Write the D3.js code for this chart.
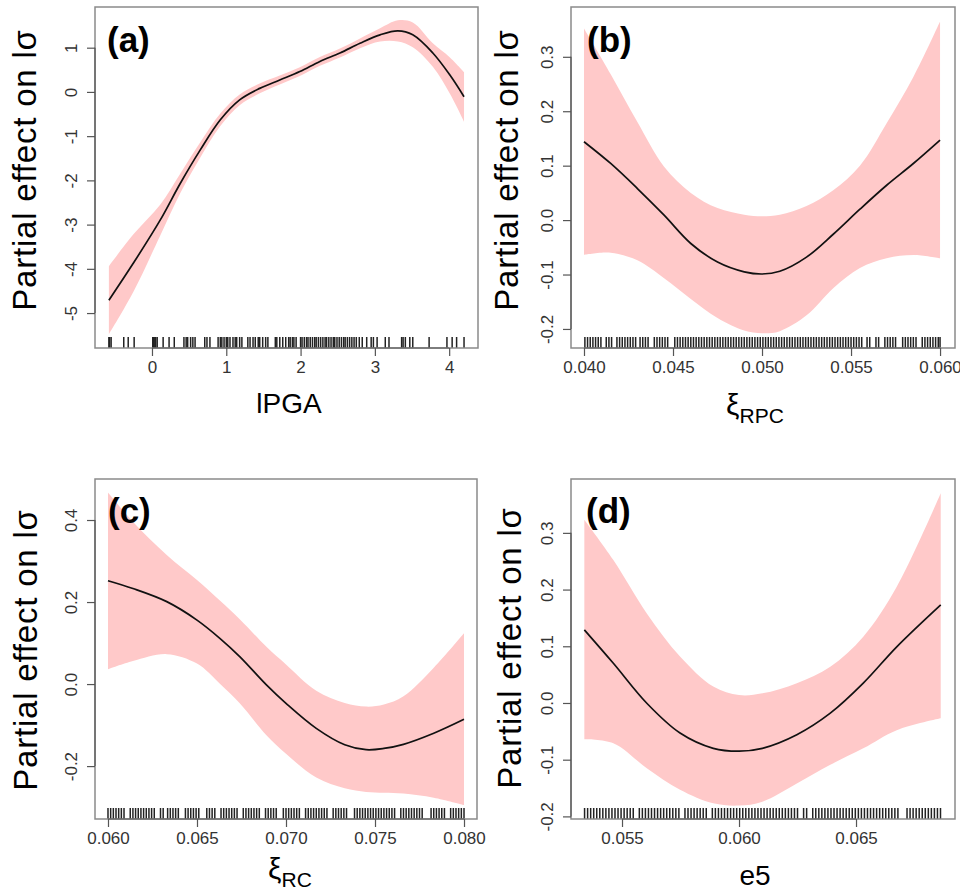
<!DOCTYPE html>
<html><head><meta charset="utf-8">
<script src="https://cdn.jsdelivr.net/npm/d3@7"></script>
<style>body{margin:0;background:#fff}svg{display:block}text{font-family:"Liberation Sans",Arial,sans-serif}</style>
</head><body><svg id="c" width="960" height="894"></svg>
<script>
// ---------- Panel (a): lPGA ----------
const aX     = [-0.58,-0.25,0.11,0.38,0.65,0.92,1.18,1.45,1.72,1.99,2.26,2.53,2.80,3.07,3.31,3.51,3.78,4.01,4.20];
const aFit   = [-4.71,-3.87,-2.90,-2.07,-1.31,-0.63,-0.18,0.08,0.27,0.46,0.69,0.88,1.10,1.29,1.38,1.29,0.88,0.38,-0.11];
const aUpper = [-3.94,-3.22,-2.55,-1.85,-1.14,-0.49,-0.06,0.19,0.37,0.56,0.79,0.98,1.21,1.44,1.62,1.57,1.10,0.78,0.45];
const aLower = [-5.48,-4.52,-3.25,-2.29,-1.48,-0.77,-0.30,-0.03,0.17,0.36,0.59,0.78,0.99,1.14,1.14,1.01,0.57,-0.04,-0.67];
const aRug   = [-0.58,-0.57,-0.55,-0.38,-0.32,-0.24,0.01,0.02,0.03,0.05,0.07,0.15,0.23,0.30,0.43,0.46,0.48,0.52,0.55,0.58,0.71,0.74,0.78,0.89,0.92,0.94,0.97,1.00,1.02,1.05,1.09,1.12,1.14,1.18,1.21,1.29,1.32,1.36,1.39,1.43,1.45,1.49,1.53,1.56,1.66,1.68,1.72,1.76,1.80,1.84,1.86,1.89,1.91,1.94,2.00,2.02,2.05,2.08,2.10,2.13,2.16,2.19,2.21,2.24,2.27,2.30,2.33,2.35,2.38,2.41,2.44,2.46,2.49,2.52,2.55,2.58,2.60,2.63,2.66,2.69,2.72,2.75,2.79,2.83,2.89,2.95,2.98,3.03,3.14,3.19,3.36,3.38,3.41,3.47,3.51,3.73,3.97,4.04,4.10,4.20];
const aXTicks = [0,1,2,3,4];
const aYTicks = [-5,-4,-3,-2,-1,0,1];

// ---------- Panel (b): xi_RPC ----------
const bX     = [0.0400,0.0415,0.0430,0.0445,0.0460,0.0475,0.0490,0.0500,0.0510,0.0525,0.0540,0.0555,0.0570,0.0585,0.0600];
const bFit   = [0.144,0.104,0.058,0.009,-0.043,-0.077,-0.095,-0.099,-0.094,-0.068,-0.026,0.020,0.064,0.104,0.147];
const bUpper = [0.352,0.268,0.180,0.098,0.050,0.022,0.010,0.007,0.010,0.026,0.055,0.100,0.178,0.263,0.365];
const bLower = [-0.064,-0.060,-0.074,-0.107,-0.145,-0.180,-0.203,-0.208,-0.204,-0.175,-0.125,-0.088,-0.070,-0.064,-0.070];
const bRug   = [0.04005,0.0402,0.04035,0.0405,0.04065,0.0408,0.04095,0.04125,0.0414,0.04155,0.04185,0.042,0.04215,0.0423,0.04245,0.0426,0.04275,0.0429,0.04315,0.0433,0.04345,0.0436,0.04395,0.0441,0.04425,0.0444,0.04455,0.0447,0.0451,0.04525,0.0454,0.04555,0.0457,0.04585,0.046,0.04615,0.0463,0.04645,0.0466,0.04675,0.0469,0.04705,0.0472,0.04735,0.0475,0.04765,0.0478,0.04795,0.0481,0.04825,0.0484,0.04855,0.0487,0.04885,0.049,0.04915,0.0493,0.04945,0.0496,0.04975,0.0499,0.05005,0.0502,0.05035,0.0505,0.05065,0.0508,0.05095,0.0511,0.05125,0.0514,0.05155,0.0517,0.05185,0.052,0.05215,0.0523,0.05245,0.0526,0.05275,0.0529,0.05305,0.0532,0.05335,0.0535,0.05365,0.0538,0.05395,0.0541,0.05425,0.0544,0.05455,0.0547,0.05485,0.055,0.05515,0.0553,0.05545,0.0556,0.0559,0.05605,0.0564,0.05655,0.0569,0.05705,0.0572,0.05735,0.0575,0.0579,0.05805,0.0582,0.05835,0.0585,0.05865,0.059,0.05915,0.0593,0.05945,0.0596,0.05975,0.0599,0.0600];
const bXTicks = [0.040,0.045,0.050,0.055,0.060];
const bYTicks = [-0.2,-0.1,0.0,0.1,0.2,0.3];

// ---------- Panel (c): xi_RC ----------
const cX     = [0.0600,0.0614,0.0633,0.0650,0.0663,0.0674,0.0689,0.0700,0.0717,0.0733,0.0745,0.0755,0.0766,0.0783,0.0800];
const cFit   = [0.252,0.233,0.201,0.156,0.111,0.067,-0.002,-0.047,-0.108,-0.148,-0.160,-0.157,-0.147,-0.120,-0.086];
const cUpper = [0.467,0.396,0.315,0.254,0.203,0.158,0.091,0.048,-0.016,-0.046,-0.055,-0.050,-0.030,0.040,0.124];
const cLower = [0.036,0.056,0.073,0.050,0.000,-0.047,-0.125,-0.170,-0.228,-0.254,-0.263,-0.265,-0.267,-0.277,-0.295];
const cRug   = [0.0600,0.06015,0.0603,0.06045,0.0606,0.06075,0.0609,0.06125,0.0614,0.06155,0.0617,0.06185,0.0620,0.06215,0.0623,0.06245,0.0626,0.06295,0.0631,0.06335,0.0635,0.06365,0.0638,0.06395,0.06435,0.0645,0.06465,0.0648,0.06495,0.0651,0.06555,0.0657,0.06585,0.0660,0.06635,0.0665,0.06665,0.0668,0.06695,0.0671,0.06725,0.0676,0.06775,0.0679,0.06805,0.0682,0.06835,0.0685,0.06885,0.0690,0.06915,0.0693,0.06945,0.06985,0.0700,0.07015,0.0703,0.07045,0.0706,0.07075,0.0711,0.07125,0.0714,0.07155,0.0717,0.07185,0.0720,0.07215,0.0723,0.07265,0.0728,0.07295,0.0731,0.07325,0.0734,0.07385,0.0740,0.07415,0.0743,0.07445,0.0746,0.07475,0.0749,0.07505,0.0752,0.07535,0.0755,0.07565,0.0758,0.07595,0.0761,0.07645,0.0766,0.07675,0.0769,0.07705,0.0772,0.07735,0.0775,0.07765,0.07815,0.0783,0.07845,0.0786,0.07875,0.0789,0.07925,0.0794,0.07955,0.0797,0.07985,0.0800];
const cXTicks = [0.060,0.065,0.070,0.075,0.080];
const cYTicks = [-0.2,0.0,0.2,0.4];

// ---------- Panel (d): e5 ----------
const dX     = [0.05339,0.05463,0.05606,0.05748,0.0589,0.0600,0.0610,0.06247,0.0639,0.06531,0.06674,0.06862];
const dFit   = [0.129,0.070,-0.0005,-0.053,-0.080,-0.085,-0.080,-0.056,-0.018,0.035,0.099,0.173];
const dUpper = [0.323,0.252,0.158,0.082,0.029,0.014,0.017,0.035,0.064,0.117,0.205,0.370];
const dLower = [-0.064,-0.071,-0.115,-0.153,-0.177,-0.181,-0.174,-0.142,-0.109,-0.080,-0.048,-0.027];
const dRug   = [0.0534,0.05353,0.05366,0.05379,0.05392,0.05405,0.05418,0.05431,0.05444,0.05457,0.0547,0.05483,0.05496,0.05509,0.05522,0.05535,0.05548,0.05574,0.05587,0.0560,0.05613,0.05626,0.05639,0.05652,0.05665,0.05678,0.05691,0.05704,0.05717,0.0573,0.05743,0.05769,0.05782,0.05795,0.05808,0.05821,0.05834,0.05847,0.0586,0.05886,0.05899,0.05912,0.05925,0.05938,0.05951,0.05964,0.05977,0.0599,0.06003,0.06016,0.06029,0.06042,0.06055,0.06068,0.06081,0.06094,0.06107,0.0612,0.06133,0.06146,0.06159,0.06172,0.06185,0.06198,0.06211,0.06224,0.06237,0.0625,0.06276,0.06289,0.06315,0.06328,0.06341,0.06354,0.06367,0.0638,0.06393,0.06406,0.06419,0.06432,0.06445,0.06458,0.06471,0.06484,0.06497,0.0651,0.06523,0.06536,0.06549,0.06562,0.06575,0.06588,0.06601,0.06614,0.06627,0.0664,0.06653,0.06666,0.06679,0.06718,0.06731,0.06744,0.06757,0.0677,0.06783,0.06796,0.06809,0.06822,0.06835,0.06848,0.06861];
const dXTicks = [0.055,0.060,0.065];
const dYTicks = [-0.2,-0.1,0.0,0.1,0.2,0.3];

const yTitle = "Partial effect on lσ";

const panels = [
  {label:"(a)", xs:aX, fit:aFit, up:aUpper, lo:aLower, rug:aRug, xt:aXTicks, yt:aYTicks,
   xdom:[-0.767,4.388], ydom:[-5.79,1.92], box:[95,7,478,348], xf:v=>String(v), yf:v=>String(v),
   xtitle:{main:"lPGA", sub:null, x:289, y:413}, ytx:36, yty:170, lx:107, ly:52},
  {label:"(b)", xs:bX, fit:bFit, up:bUpper, lo:bLower, rug:bRug, xt:bXTicks, yt:bYTicks,
   xdom:[0.03927,0.06084], ydom:[-0.235,0.3915], box:[571,7,955,348], xf:v=>v.toFixed(3), yf:v=>v.toFixed(1),
   xtitle:{main:"ξ", sub:"RPC", x:755, y:415}, ytx:518, yty:170, lx:587, ly:52},
  {label:"(c)", xs:cX, fit:cFit, up:cUpper, lo:cLower, rug:cRug, xt:cXTicks, yt:cYTicks,
   xdom:[0.05927,0.08073], ydom:[-0.329,0.5], box:[95,479,477,819], xf:v=>v.toFixed(3), yf:v=>v.toFixed(1),
   xtitle:{main:"ξ", sub:"RC", x:290, y:879}, ytx:37, yty:650, lx:108, ly:523},
  {label:"(d)", xs:dX, fit:dFit, up:dUpper, lo:dLower, rug:dRug, xt:dXTicks, yt:dYTicks,
   xdom:[0.05282,0.06923], ydom:[-0.2046,0.395], box:[571,479,955,819], xf:v=>v.toFixed(3), yf:v=>v.toFixed(1),
   xtitle:{main:"e5", sub:null, x:755, y:885}, ytx:521, yty:648, lx:586, ly:523}
];

const svg = d3.select("#c");
const boxCol = "#8a8a8a", tickCol = "#555", labCol = "#333";
const smooth = d3.curveCatmullRom.alpha(0.5);

panels.forEach(p => {
  const [x0,y0,x1,y1] = p.box;
  const x = d3.scaleLinear().domain(p.xdom).range([x0,x1]);
  const y = d3.scaleLinear().domain(p.ydom).range([y1,y0]);
  const g = svg.append("g");
  const pts = p.xs.map((v,i)=>({x:v, f:p.fit[i], u:p.up[i], l:p.lo[i]}));

  g.append("path").datum(pts)
    .attr("d", d3.area().x(d=>x(d.x)).y0(d=>y(d.l)).y1(d=>y(d.u)).curve(smooth))
    .attr("fill","#ffc9c9");
  g.append("path").datum(pts)
    .attr("d", d3.line().x(d=>x(d.x)).y(d=>y(d.f)).curve(smooth))
    .attr("fill","none").attr("stroke","#111").attr("stroke-width",1.7);

  // rug
  g.append("g").selectAll("line").data(p.rug).join("line")
    .attr("x1",d=>x(d)).attr("x2",d=>x(d)).attr("y1",y1).attr("y2",y1-11)
    .attr("stroke","#222").attr("stroke-width",1.5);

  // box
  g.append("rect").attr("x",x0).attr("y",y0).attr("width",x1-x0).attr("height",y1-y0)
    .attr("fill","none").attr("stroke",boxCol).attr("stroke-width",1.5);

  // x axis
  const xa = d3.axisBottom(x).tickValues(p.xt).tickFormat(p.xf).tickSize(8).tickPadding(8);
  const gx = g.append("g").attr("transform",`translate(0,${y1})`).call(xa);
  gx.select(".domain").attr("d",`M${x(p.xt[0])},0H${x(p.xt[p.xt.length-1])}`).attr("stroke",tickCol).attr("stroke-width",1.2);
  gx.selectAll(".tick line").attr("stroke",tickCol).attr("stroke-width",1.2);
  gx.selectAll(".tick text").attr("font-size",17).attr("fill",labCol).attr("font-family",null).attr("dy",null).attr("y",25);

  // y axis with rotated labels
  const ya = d3.axisLeft(y).tickValues(p.yt).tickFormat(p.yf).tickSize(8);
  const gy = g.append("g").attr("transform",`translate(${x0},0)`).call(ya);
  gy.select(".domain").attr("d",`M0,${y(p.yt[0])}V${y(p.yt[p.yt.length-1])}`).attr("stroke",tickCol).attr("stroke-width",1.2);
  gy.selectAll(".tick line").attr("stroke",tickCol).attr("stroke-width",1.2);
  gy.selectAll(".tick text").attr("font-size",17).attr("fill",labCol).attr("font-family",null)
    .attr("x",null).attr("dy",null).attr("text-anchor","middle")
    .attr("transform","translate(-18,0) rotate(-90)");

  // y title
  g.append("text").attr("transform",`translate(${p.ytx},${p.yty}) rotate(-90)`)
    .attr("text-anchor","middle").attr("font-size",33).attr("letter-spacing",0.8).attr("fill","#000").text(yTitle);

  // x title
  const t = g.append("text").attr("x",p.xtitle.x).attr("y",p.xtitle.y).attr("text-anchor","middle").attr("fill","#000");
  if (p.xtitle.sub) {
    t.append("tspan").attr("font-size",30).text(p.xtitle.main);
    t.append("tspan").attr("font-size",21).attr("dy",8).text(p.xtitle.sub);
  } else {
    t.attr("font-size",28).text(p.xtitle.main);
  }

  // panel label
  g.append("text").attr("x",p.lx).attr("y",p.ly).attr("font-size",35).attr("font-weight","bold").attr("fill","#000").text(p.label);
});
</script></body></html>
